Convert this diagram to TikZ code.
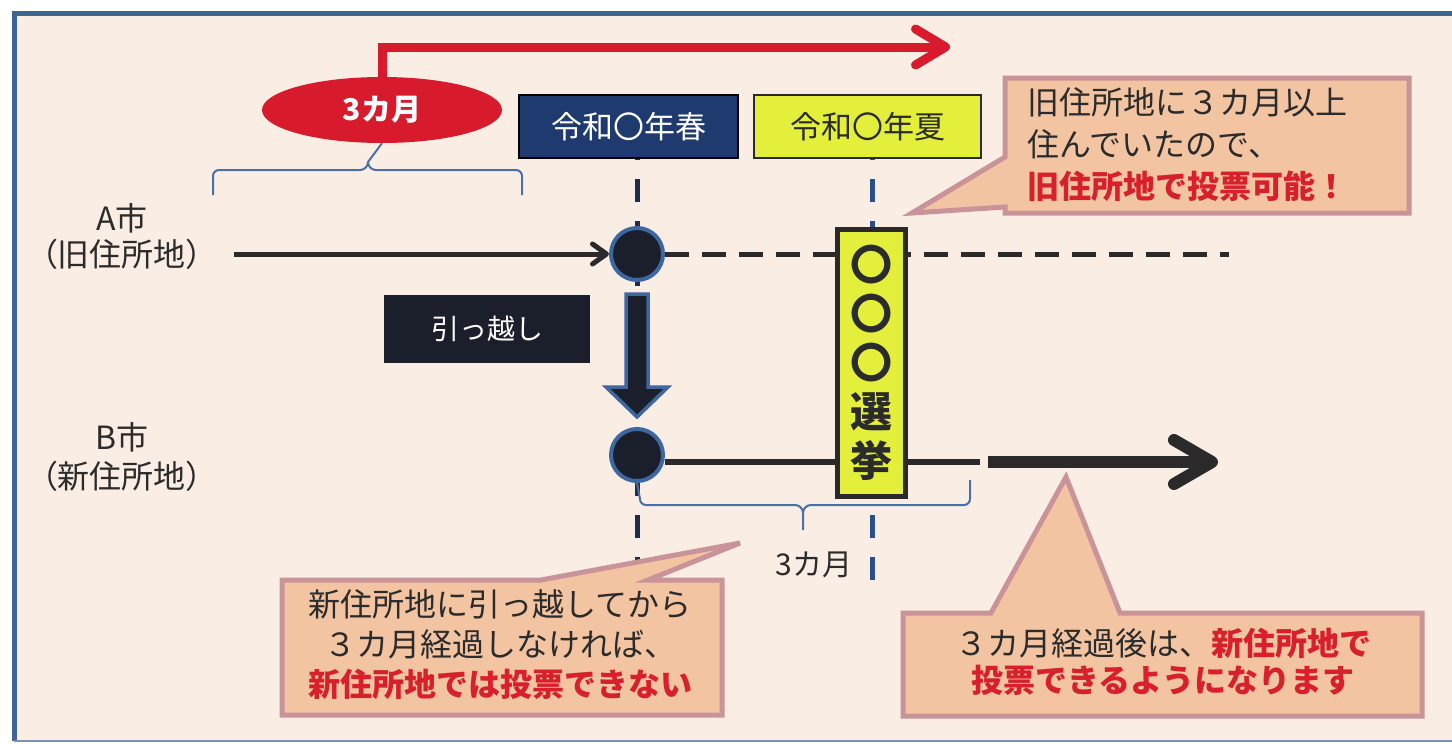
\documentclass[tikz,border=0pt]{standalone}
\usepackage{fontspec}
\setmainfont{Noto Sans CJK JP}
\usetikzlibrary{shapes.geometric,arrows.meta,calc}
\definecolor{bgc}{HTML}{F9EDE4}
\definecolor{framec}{HTML}{3E6496}
\definecolor{redc}{HTML}{D81B2C}
\definecolor{navyc}{HTML}{1E3A6E}
\definecolor{darkc}{HTML}{1B1F2C}
\definecolor{yelc}{HTML}{E3EF3A}
\definecolor{bluec}{HTML}{3D67A0}
\definecolor{calfill}{HTML}{F2C4A2}
\definecolor{caledge}{HTML}{CA939A}
\definecolor{txtc}{HTML}{2B2B2B}
\definecolor{redtxt}{HTML}{D7202B}
\definecolor{lineblk}{HTML}{2A2A2A}
\definecolor{springline}{HTML}{1E2B4A}
\definecolor{summerline}{HTML}{2B4F88}
\definecolor{bracec}{HTML}{4A6FA6}
\newcommand{\jfs}[1]{\fontsize{#1}{#1}\selectfont}
\pgfdeclarelayer{back}
\pgfdeclarelayer{behind}
\pgfsetlayers{back,behind,main}
\begin{document}
\begin{tikzpicture}[x=1pt,y=-1pt,
  lbl/.style={text=txtc, font=\jfs{32}, inner sep=0},
  dot/.style={circle, fill=darkc, draw=bluec, line width=4, minimum size=52, inner sep=0},
  datebox/.style={rectangle, minimum height=63, inner sep=0, font=\jfs{31}},
  callout/.style={fill=calfill, draw=caledge, line width=5, line join=miter},
  ctext/.style={text=txtc, inner sep=0},
  brace/.style={bracec, line width=2}
]
\useasboundingbox (0,0) rectangle (1452,744);
\begin{pgfonlayer}{back}
\fill[white] (0,0) rectangle (1452,744);
\fill[bgc] (14,13) rectangle (1452,741);
\draw[framec, line width=5] (1460,13) -- (14,13) -- (14,741);
\draw[framec!70, line width=2.5] (14,741) -- (1460,741);
\end{pgfonlayer}

% nodes
\node[ellipse, fill=redc, minimum width=240, minimum height=66, inner sep=0, text=white, font=\bfseries\jfs{30}] (ell) at (382,110) {3カ月};
\node[datebox, fill=navyc, draw=black, line width=2, minimum width=219, text=white] (spring) at (628.5,126.5) {令和〇年春};
\node[datebox, fill=yelc, draw=lineblk, line width=2.5, minimum width=227, text=txtc] (summer) at (867.5,126.5) {令和〇年夏};
\node[lbl] (Aname) at (122,218) {A市};
\node[lbl] (Aold) at (122,254) {（旧住所地）};
\node[lbl] (Bname) at (122,437) {B市};
\node[lbl] (Bnew) at (122,476) {（新住所地）};
\node[dot] (cA) at (637,254) {};
\node[dot] (cB) at (637,455) {};
\node[rectangle, fill=darkc, minimum width=206, minimum height=68, inner sep=0, text=white, font=\jfs{28}] (move) at (487,329) {引っ越し};
\node[rectangle, fill=yelc, draw=lineblk, line width=5, minimum width=68, minimum height=267, inner sep=0, text=txtc, align=center, font=\bfseries\fontsize{42}{49}\selectfont] (elec) at (871.5,363) {〇\\〇\\〇\\選\\挙};
\node[lbl, font=\jfs{30}] (three) at (814,565) {3カ月};

\coordinate (springend) at (637,580);
\coordinate (summerend) at (872,580);
\coordinate (Aend) at (1229,254);
\coordinate (Bmid) at (980,462);
\coordinate (Bstart) at (988,462);
\coordinate (Bend) at (1218,462);
\coordinate (redend) at (950,47);

\begin{pgfonlayer}{behind}
\draw[springline, line width=5, dash pattern=on 23pt off 19pt] (springend) -- (springend |- spring.south);
\draw[summerline, line width=5, dash pattern=on 23pt off 19pt] (summerend) -- (summerend |- summer.south);
\draw[lineblk, line width=5, dash pattern=on 24pt off 13pt] (cA.east) -- (Aend);
\draw[lineblk, line width=6] ([yshift=-7pt]cB.east) -- (Bmid);
\end{pgfonlayer}

% arrows
\draw[redc, line width=9, -{Straight Barb[length=30pt,width=36pt,round]}] (ell.north) |- (redend);
\draw[lineblk, line width=5, -{Straight Barb[length=14pt,width=20pt,round]}] ([xshift=16pt]Aold.east) -- (cA.west);
\draw[lineblk, line width=12, -{Straight Barb[length=38pt,width=44pt,round]}] (Bstart) -- (Bend);
\draw[fill=darkc, draw=bluec, line width=3.5, line join=miter]
  ($(cA.south)+(-11,12)$) -- ($(cA.south)+(11,12)$) -- ($(cB.north)+(11,-40)$) -- ($(cB.north)+(31,-40)$)
  -- ($(cB.north)+(0,-10)$) -- ($(cB.north)+(-31,-40)$) -- ($(cB.north)+(-11,-40)$) -- cycle;

% braces
\draw[brace] (213,195) -- (213,176) to[out=90,in=180] (219,170) -- (360,170) to[out=0,in=-90] (368,162) -- (ell.south);
\draw[brace] (368,162) to[out=-90,in=180] (376,170) -- (516,170) to[out=0,in=90] (522,176) -- (522,195);
\draw[brace] (cB.south) -- (640,499) to[out=-90,in=180] (646,505) -- (795,505) to[out=0,in=90] (803,513) -- (803,530);
\draw[brace] (803,513) to[out=90,in=180] (811,505) -- (964,505) to[out=0,in=-90] (970,499) -- (970,480);

% callouts
\draw[callout] (1005,78) -- (1409,78) -- (1409,213) -- (1005,213) -- (1005,207) -- (912,213) -- (1005,157) -- cycle;
\draw[callout] (282,580) -- (541,580) -- (740,543) -- (648,580) -- (722,580) -- (722,715) -- (282,715) -- cycle;
\draw[callout] (903,613) -- (991,613) -- (1066,477) -- (1120,613) -- (1422,613) -- (1422,716) -- (903,716) -- cycle;

\node[ctext, anchor=west, align=left, font=\fontsize{32}{42}\selectfont] (c1t) at (1027,145) {旧住所地に３カ月以上\\住んでいたので、\\{\color{redtxt}\bfseries 旧住所地で投票可能！}};
\node[ctext, align=center, font=\fontsize{32}{40}\selectfont] (c2t) at (500,645) {新住所地に引っ越してから\\３カ月経過しなければ、\\{\color{redtxt}\bfseries 新住所地では投票できない}};
\node[ctext, align=center, font=\fontsize{32}{37}\selectfont] (c3t) at (1163,662) {３カ月経過後は、{\color{redtxt}\bfseries 新住所地で}\\{\color{redtxt}\bfseries 投票できるようになります}};
\end{tikzpicture}
\end{document}
